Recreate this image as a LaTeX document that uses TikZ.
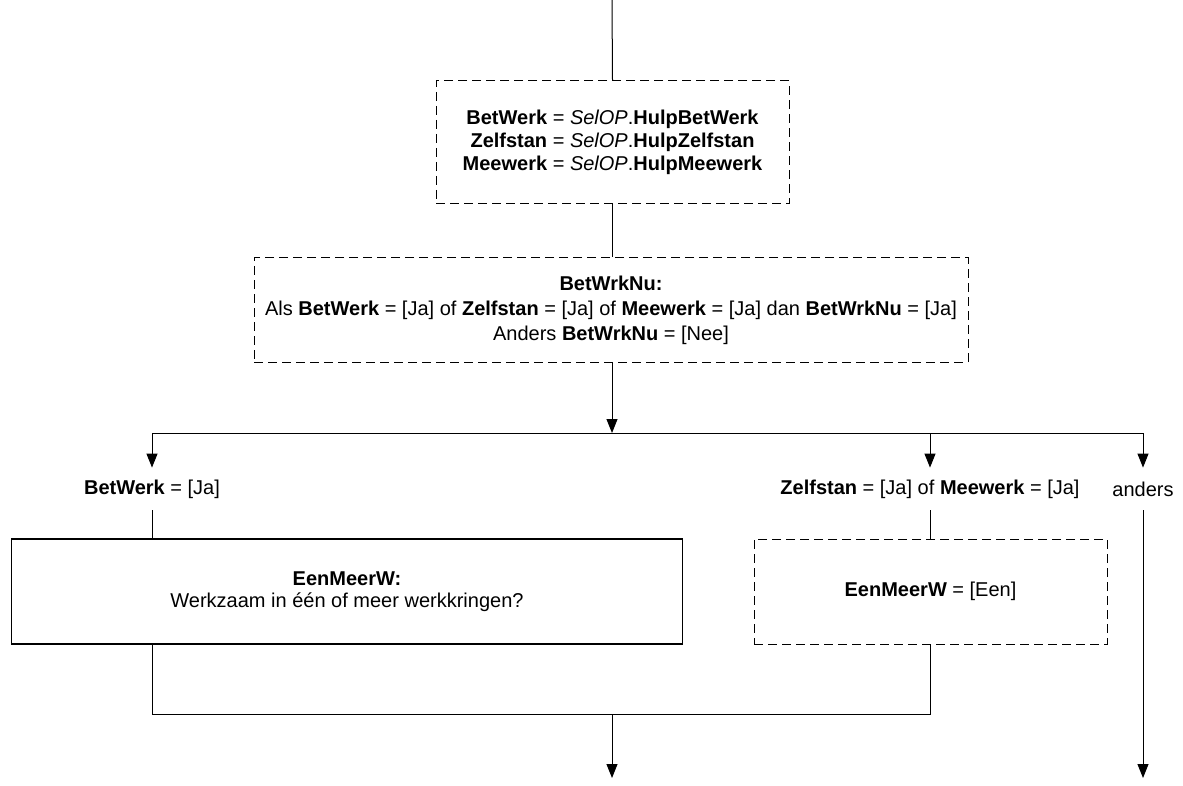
\documentclass[tikz,border=0pt]{standalone}
\usepackage{fontspec}
\setmainfont{Liberation Sans}
\usetikzlibrary{arrows.meta}
\tikzset{
  dbox/.style={draw, dash pattern=on 4.5pt off 2.5pt, line width=0.5pt, align=center, inner sep=0pt},
  sbox/.style={draw, line width=0.7pt, align=center, inner sep=0pt},
  lbl/.style={inner sep=0pt, minimum height=21pt},
  conn/.style={line width=0.5pt},
  arr/.style={line width=0.5pt, -{Triangle[length=7pt, width=5.5pt]}}
}
\begin{document}
\begin{tikzpicture}[x=0.5pt, y=-0.5pt, font=\fontsize{10pt}{11.5pt}\selectfont]
\useasboundingbox (0,0) rectangle (1183,786);
\coordinate (top) at (612,0);
\node[dbox, minimum width=176.5pt, minimum height=61.5pt, font=\fontsize{10pt}{11.5pt}\selectfont] (b1) at (612.5,142.5)
  {\textbf{BetWerk} = \textit{SelOP}.\textbf{HulpBetWerk}\\ \textbf{Zelfstan} = \textit{SelOP}.\textbf{HulpZelfstan}\\ \textbf{Meewerk} = \textit{SelOP}.\textbf{HulpMeewerk}};
\node[dbox, minimum width=357pt, minimum height=52pt, font=\fontsize{10pt}{12.5pt}\selectfont] (b2) at (611,310)
  {\textbf{BetWrkNu:}\\ Als \textbf{BetWerk} = [Ja] of \textbf{Zelfstan} = [Ja] of \textbf{Meewerk} = [Ja] dan \textbf{BetWrkNu} = [Ja]\\ Anders \textbf{BetWrkNu} = [Nee]};
\coordinate (br) at (612,433);
\node[lbl] (l1) at (152,489) {\textbf{BetWerk} = [Ja]};
\node[lbl] (l2) at (930,489) {\textbf{Zelfstan} = [Ja] of \textbf{Meewerk} = [Ja]};
\node[lbl] (l3) at (1143,489) {anders};
\node[sbox, minimum width=335.5pt, minimum height=52.5pt, font=\fontsize{10pt}{11pt}\selectfont] (b3) at (347,591.5)
  {\textbf{EenMeerW:}\\ Werkzaam in één of meer werkkringen?};
\node[dbox, minimum width=176.5pt, minimum height=52.5pt] (b4) at (930.5,591.5)
  {\textbf{EenMeerW} = [Een]};
\coordinate (m) at (612,714);
\coordinate (out1) at (612,778);
\coordinate (out2) at (1143,778);

\draw[conn] (top) -- (b1.north);
\draw[conn] (b1.south) -- (b1.south |- b2.north);
\draw[arr] (b2.south -| br) -- (br);
\draw[conn] (l1 |- br) -- (l3 |- br);
\draw[arr] (l1 |- br) -- (l1.north);
\draw[arr] (l2 |- br) -- (l2.north);
\draw[arr] (l3 |- br) -- (l3.north);
\draw[conn] (l1.south) -- (l1 |- b3.north);
\draw[conn] (l2.south) -- (l2 |- b4.north);
\draw[conn] (l1 |- b3.south) -- (l1 |- m) -- (l2 |- m) -- (l2 |- b4.south);
\draw[arr] (m) -- (out1);
\draw[arr] (l3.south) -- (out2);
\end{tikzpicture}
\end{document}
